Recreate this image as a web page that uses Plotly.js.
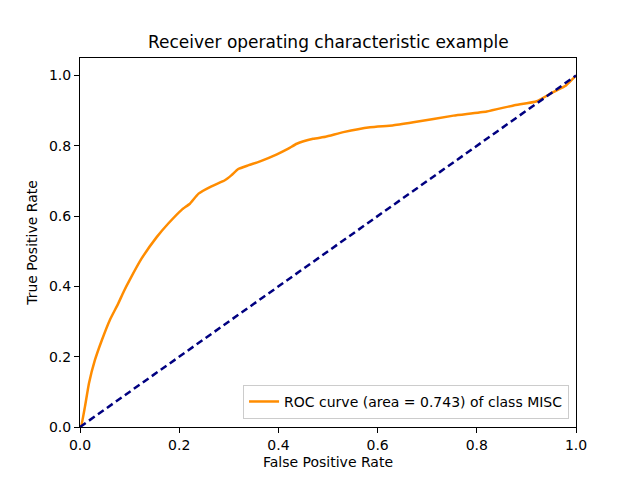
<!DOCTYPE html>
<html>
<head>
<meta charset="utf-8">
<script src="https://cdn.plot.ly/plotly-3.0.1.min.js"></script>
<style>html,body{margin:0;padding:0;background:#fff}</style>
</head>
<body>
<div id="myDiv" style="width:640px;height:480px"></div>
<script>
// ROC curve points
var fpr = [0.0, 0.002, 0.010, 0.018, 0.030, 0.044, 0.060, 0.077, 0.088, 0.100, 0.124, 0.155,
  0.178, 0.205, 0.222, 0.239, 0.265, 0.292, 0.305, 0.319, 0.340, 0.363, 0.397, 0.420,
  0.437, 0.470, 0.495, 0.531, 0.585, 0.630, 0.672, 0.753, 0.820, 0.874, 0.921, 0.954,
  0.980, 1.0];
var tpr = [0.0, 0.001, 0.058, 0.124, 0.190, 0.247, 0.304, 0.351, 0.385, 0.418, 0.479, 0.541,
  0.579, 0.618, 0.636, 0.664, 0.685, 0.702, 0.716, 0.734, 0.745, 0.756, 0.776, 0.792,
  0.806, 0.820, 0.826, 0.839, 0.853, 0.858, 0.867, 0.886, 0.898, 0.915, 0.927, 0.953,
  0.972, 1.0];
var chance = [0, 1];
var rocLabel = 'ROC curve (area = 0.743) of class MISC';

var trace1 = {
  x: fpr,
  y: tpr,
  mode: 'lines',
  name: rocLabel,
  line: {color: 'darkorange', width: 2.5, shape: 'spline', smoothing: 0.4},
  type: 'scatter'
};
var trace2 = {
  x: chance,
  y: chance,
  mode: 'lines',
  showlegend: false,
  line: {color: 'navy', width: 2.5, dash: '7px,4px'},
  type: 'scatter'
};

var axisStyle = {
  showline: true,
  mirror: true,
  linecolor: 'black',
  linewidth: 1,
  showgrid: false,
  zeroline: false,
  ticks: 'outside',
  ticklen: 5,
  tickcolor: 'black',
  tickformat: '.1f',
  dtick: 0.2,
  tickfont: {family: 'DejaVu Sans', size: 14, color: 'black'}
};

var layout = {
  width: 640,
  height: 480,
  margin: {l: 80, r: 64, t: 58, b: 53},
  paper_bgcolor: 'white',
  plot_bgcolor: 'white',
  font: {family: 'DejaVu Sans', color: 'black'},
  title: {text: 'Receiver operating characteristic example', font: {size: 17}, x: 0.513, xanchor: 'center', y: 0.925},
  xaxis: Object.assign({}, axisStyle, {
    range: [0, 1],
    title: {text: 'False Positive Rate', font: {size: 14}, standoff: 5}
  }),
  yaxis: Object.assign({}, axisStyle, {
    range: [0, 1.05],
    title: {text: 'True Positive Rate', font: {size: 14}, standoff: 8}
  }),
  legend: {
    x: 0.986, xanchor: 'right',
    y: 0.022, yanchor: 'bottom',
    bgcolor: 'rgba(255,255,255,0.8)',
    bordercolor: '#cccccc',
    borderwidth: 1,
    font: {size: 14}
  }
};

Plotly.newPlot('myDiv', [trace1, trace2], layout, {displayModeBar: false});
</script>
</body>
</html>
